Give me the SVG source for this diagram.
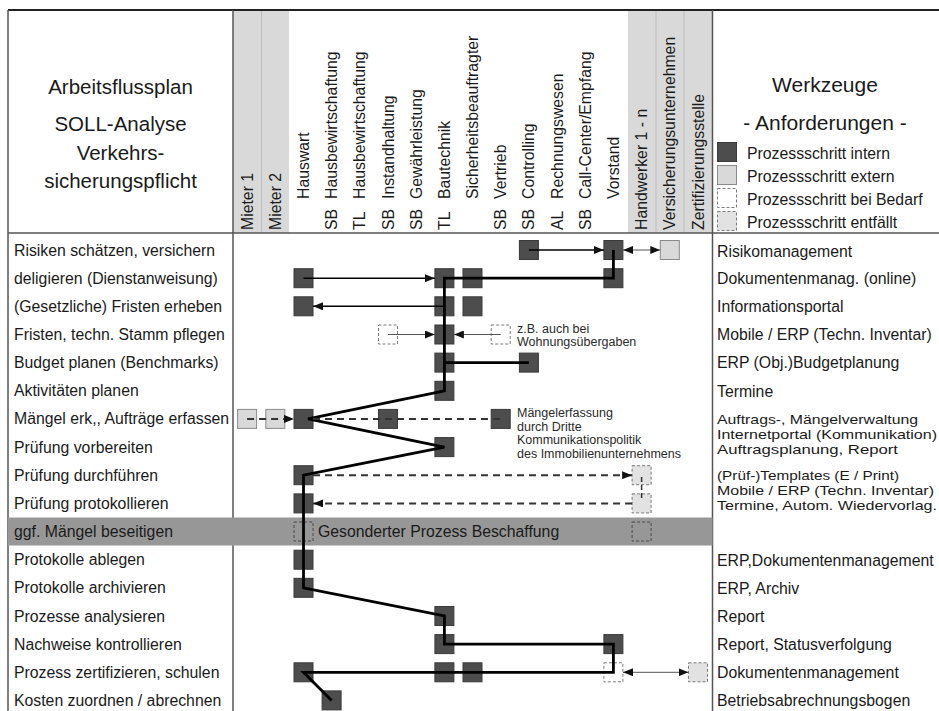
<svg xmlns="http://www.w3.org/2000/svg" width="939" height="711" viewBox="0 0 939 711">
<style>
.t{font-family:"Liberation Sans",Arial,sans-serif;font-size:15.8px;fill:#1a1a1a}
.tc{font-family:"Liberation Sans",Arial,sans-serif;font-size:13.4px;fill:#1a1a1a}
.h{font-family:"Liberation Sans",Arial,sans-serif;font-size:20.5px;fill:#1a1a1a;text-anchor:middle}
.s{font-family:"Liberation Sans",Arial,sans-serif;font-size:12.5px;fill:#2a2a2a}
.int{fill:#4d4d4d;stroke:#3a3a3a;stroke-width:1}
.ext{fill:#d9d9d9;stroke:#8a8a8a;stroke-width:1}
.bed{fill:#ffffff;stroke:#7a7a7a;stroke-width:1;stroke-dasharray:3,2}
.bedn{fill:none;stroke:#4a4a4a;stroke-width:1;stroke-dasharray:3,2}
.ent{fill:#e2e2e2;stroke:#7a7a7a;stroke-width:1;stroke-dasharray:3,2}
.frame{stroke:#555;stroke-width:1.5;fill:none}
.thick{stroke:#000;stroke-width:2.8;fill:none;stroke-linejoin:miter}
.thin{stroke:#000;stroke-width:1.5;fill:none}
.gray{stroke:#555;stroke-width:1;fill:none}
.dash{stroke:#333;stroke-width:2;fill:none;stroke-dasharray:7,5}
</style>
<defs>
<marker id="ah" viewBox="0 0 10 8" refX="10" refY="4" markerWidth="10" markerHeight="8" markerUnits="userSpaceOnUse" orient="auto-start-reverse"><path d="M0,0 L10,4 L0,8 z" fill="#111"/></marker>
</defs>

<!-- header backgrounds -->
<g id="header-bg">
<rect x="233" y="10" width="56" height="223" fill="#d9d9d9"/>
<line x1="261.5" y1="10" x2="261.5" y2="233" stroke="#bdbdbd" stroke-width="1"/>
<rect x="628" y="10" width="84.5" height="223" fill="#d9d9d9"/>
<line x1="656" y1="10" x2="656" y2="233" stroke="#bdbdbd" stroke-width="1"/>
<line x1="684" y1="10" x2="684" y2="233" stroke="#bdbdbd" stroke-width="1"/>
</g>

<!-- frame -->
<g id="frame">
<line x1="8" y1="10" x2="939" y2="10" stroke="#222" stroke-width="2"/>
<line class="frame" x1="8" y1="233" x2="939" y2="233"/>
<line class="frame" x1="8" y1="10" x2="8" y2="711"/>
<line class="frame" x1="233" y1="10" x2="233" y2="711"/>
<line class="frame" x1="712.5" y1="10" x2="712.5" y2="711"/>
</g>

<!-- band row 10 -->
<rect id="band" x="8" y="517.5" width="704.5" height="28" fill="#979797"/>

<!-- titles -->
<g id="title-left">
<text class="h" x="120.5" y="93.5">Arbeitsflussplan</text>
<text class="h" x="120.5" y="130.5">SOLL-Analyse</text>
<text class="h" x="120.5" y="160">Verkehrs-</text>
<text class="h" x="120.5" y="188">sicherungspflicht</text>
</g>
<g id="title-right">
<text class="h" x="825" y="92" style="font-size:21px">Werkzeuge</text>
<text class="h" x="825" y="130" style="font-size:21px">- Anforderungen -</text>
</g>
<g id="legend">
<rect class="int" x="717.5" y="142.5" width="19" height="19"/>
<text class="t" x="747" y="158.5">Prozessschritt intern</text>
<rect class="ext" x="717.5" y="165.5" width="19" height="19"/>
<text class="t" x="747" y="181.5">Prozessschritt extern</text>
<rect class="bed" x="717.5" y="188.5" width="19" height="19"/>
<text class="t" x="747" y="204.5">Prozessschritt bei Bedarf</text>
<rect class="ent" x="717.5" y="211.5" width="19" height="19"/>
<text class="t" x="747" y="227.5">Prozessschritt entfällt</text>
</g>

<!-- column headers -->
<g id="columns" class="t">
<text transform="translate(252.6,230) rotate(-90)">Mieter 1</text>
<text transform="translate(280.8,230) rotate(-90)">Mieter 2</text>
<text transform="translate(309,199) rotate(-90)">Hauswart</text>
<text transform="translate(337.1,230) rotate(-90)">SB</text>
<text transform="translate(337.1,199) rotate(-90)">Hausbewirtschaftung</text>
<text transform="translate(365.3,230) rotate(-90)">TL</text>
<text transform="translate(365.3,199) rotate(-90)">Hausbewirtschaftung</text>
<text transform="translate(393.5,230) rotate(-90)">SB</text>
<text transform="translate(393.5,199) rotate(-90)">Instandhaltung</text>
<text transform="translate(421.7,230) rotate(-90)">SB</text>
<text transform="translate(421.7,199) rotate(-90)">Gewährleistung</text>
<text transform="translate(449.9,230) rotate(-90)">TL</text>
<text transform="translate(449.9,199) rotate(-90)">Bautechnik</text>
<text transform="translate(478,199) rotate(-90)">Sicherheitsbeauftragter</text>
<text transform="translate(506.2,230) rotate(-90)">SB</text>
<text transform="translate(506.2,199) rotate(-90)">Vertrieb</text>
<text transform="translate(534.4,230) rotate(-90)">SB</text>
<text transform="translate(534.4,199) rotate(-90)">Controlling</text>
<text transform="translate(562.6,230) rotate(-90)">AL</text>
<text transform="translate(562.6,199) rotate(-90)">Rechnungswesen</text>
<text transform="translate(590.8,230) rotate(-90)">SB</text>
<text transform="translate(590.8,199) rotate(-90)">Call-Center/Empfang</text>
<text transform="translate(618.9,199) rotate(-90)">Vorstand</text>
<text transform="translate(647.1,230) rotate(-90)">Handwerker 1 - n</text>
<text transform="translate(675.3,230) rotate(-90)">Versicherungsunternehmen</text>
<text transform="translate(703.5,230) rotate(-90)">Zertifizierungsstelle</text>
</g>

<!-- row labels -->
<g id="rows" class="t">
<text x="14" y="255.5">Risiken schätzen, versichern</text>
<text x="14" y="283.7">deligieren (Dienstanweisung)</text>
<text x="14" y="311.8">(Gesetzliche) Fristen erheben</text>
<text x="14" y="340">Fristen, techn. Stamm pflegen</text>
<text x="14" y="368.1">Budget planen (Benchmarks)</text>
<text x="14" y="396.3">Aktivitäten planen</text>
<text x="14" y="424.4">Mängel erk,, Aufträge erfassen</text>
<text x="14" y="452.6">Prüfung vorbereiten</text>
<text x="14" y="480.7">Prüfung durchführen</text>
<text x="14" y="508.9">Prüfung protokollieren</text>
<text x="14" y="537">ggf. Mängel beseitigen</text>
<text x="14" y="565.2">Protokolle ablegen</text>
<text x="14" y="593.3">Protokolle archivieren</text>
<text x="14" y="621.5">Prozesse analysieren</text>
<text x="14" y="649.6">Nachweise kontrollieren</text>
<text x="14" y="677.8">Prozess zertifizieren, schulen</text>
<text x="14" y="705.9">Kosten zuordnen / abrechnen</text>
</g>

<!-- tools -->
<g id="tools" class="t">
<text x="717" y="256.5">Risikomanagement</text>
<text x="717" y="284">Dokumentenmanag. (online)</text>
<text x="717" y="312">Informationsportal</text>
<text x="717" y="340">Mobile / ERP (Techn. Inventar)</text>
<text x="717" y="368">ERP (Obj.)Budgetplanung</text>
<text x="717" y="397">Termine</text>
<text class="tc" x="717" y="424" textLength="201" lengthAdjust="spacingAndGlyphs">Auftrags-, Mängelverwaltung</text>
<text class="tc" x="717" y="439" textLength="220" lengthAdjust="spacingAndGlyphs">Internetportal (Kommunikation)</text>
<text class="tc" x="717" y="454" textLength="181" lengthAdjust="spacingAndGlyphs">Auftragsplanung, Report</text>
<text class="tc" x="717" y="479.5" textLength="182" lengthAdjust="spacingAndGlyphs">(Prüf-)Templates (E / Print)</text>
<text class="tc" x="717" y="494.5" textLength="217" lengthAdjust="spacingAndGlyphs">Mobile / ERP (Techn. Inventar)</text>
<text class="tc" x="717" y="509.5" textLength="220" lengthAdjust="spacingAndGlyphs">Termine, Autom. Wiedervorlag.</text>
<text x="717" y="565.5">ERP,Dokumentenmanagement</text>
<text x="717" y="593.5">ERP, Archiv</text>
<text x="717" y="621.5">Report</text>
<text x="717" y="649.5">Report, Statusverfolgung</text>
<text x="717" y="677.5">Dokumentenmanagement</text>
<text x="717" y="705.5">Betriebsabrechnungsbogen</text>
</g>

<!-- nodes -->
<g id="n-r0-c10"><rect class="int" x="519.4" y="240.5" width="19" height="19"/></g>
<g id="n-r0-c13"><rect class="int" x="603.9" y="240.5" width="19" height="19"/></g>
<g id="n-r0-c15"><rect class="ext" x="660.3" y="240.5" width="19" height="19"/></g>
<g id="n-r1-c2"><rect class="int" x="294" y="268.7" width="19" height="19"/></g>
<g id="n-r1-c7"><rect class="int" x="434.9" y="268.7" width="19" height="19"/></g>
<g id="n-r1-c8"><rect class="int" x="463" y="268.7" width="19" height="19"/></g>
<g id="n-r1-c13"><rect class="int" x="603.9" y="268.7" width="19" height="19"/></g>
<g id="n-r2-c2"><rect class="int" x="294" y="296.8" width="19" height="19"/></g>
<g id="n-r2-c7"><rect class="int" x="434.9" y="296.8" width="19" height="19"/></g>
<g id="n-r2-c8"><rect class="int" x="463" y="296.8" width="19" height="19"/></g>
<g id="n-r3-c5"><rect class="bed" x="378.5" y="325" width="19" height="19"/></g>
<g id="n-r3-c7"><rect class="int" x="434.9" y="325" width="19" height="19"/></g>
<g id="n-r3-c9"><rect class="bed" x="491.2" y="325" width="19" height="19"/></g>
<g id="n-r4-c7"><rect class="int" x="434.9" y="353.1" width="19" height="19"/></g>
<g id="n-r4-c10"><rect class="int" x="519.4" y="353.1" width="19" height="19"/></g>
<g id="n-r5-c7"><rect class="int" x="434.9" y="381.3" width="19" height="19"/></g>
<g id="n-r6-c0"><rect class="ext" x="237.6" y="409.4" width="19" height="19"/></g>
<g id="n-r6-c1"><rect class="ext" x="265.8" y="409.4" width="19" height="19"/></g>
<g id="n-r6-c2"><rect class="int" x="294" y="409.4" width="19" height="19"/></g>
<g id="n-r6-c5"><rect class="int" x="378.5" y="409.4" width="19" height="19"/></g>
<g id="n-r6-c9"><rect class="int" x="491.2" y="409.4" width="19" height="19"/></g>
<g id="n-r7-c7"><rect class="int" x="434.9" y="437.6" width="19" height="19"/></g>
<g id="n-r8-c2"><rect class="int" x="294" y="465.7" width="19" height="19"/></g>
<g id="n-r8-c14"><rect class="ent" x="632.1" y="465.7" width="19" height="19"/></g>
<g id="n-r9-c2"><rect class="int" x="294" y="493.9" width="19" height="19"/></g>
<g id="n-r9-c14"><rect class="ent" x="632.1" y="493.9" width="19" height="19"/></g>
<g id="n-r10-c2"><rect class="bedn" x="294" y="522" width="19" height="19"/></g>
<g id="n-r10-c14"><rect class="bedn" x="632.1" y="522" width="19" height="19"/></g>
<g id="n-r11-c2"><rect class="int" x="294" y="550.2" width="19" height="19"/></g>
<g id="n-r12-c2"><rect class="int" x="294" y="578.3" width="19" height="19"/></g>
<g id="n-r13-c7"><rect class="int" x="434.9" y="606.5" width="19" height="19"/></g>
<g id="n-r14-c7"><rect class="int" x="434.9" y="634.6" width="19" height="19"/></g>
<g id="n-r14-c13"><rect class="int" x="603.9" y="634.6" width="19" height="19"/></g>
<g id="n-r15-c2"><rect class="int" x="294" y="662.8" width="19" height="19"/></g>
<g id="n-r15-c7"><rect class="int" x="434.9" y="662.8" width="19" height="19"/></g>
<g id="n-r15-c8"><rect class="int" x="463" y="662.8" width="19" height="19"/></g>
<g id="n-r15-c13"><rect class="bed" x="603.9" y="662.8" width="19" height="19"/></g>
<g id="n-r15-c16"><rect class="ent" x="688.5" y="662.8" width="19" height="19"/></g>
<g id="n-r16-c3"><rect class="int" x="322.1" y="690.9" width="19" height="19"/></g>

<!-- annotations -->
<g id="notes">
<text class="s" x="517" y="333">z.B. auch bei</text>
<text class="s" x="517" y="346">Wohnungsübergaben</text>
<text class="s" x="517" y="417">Mängelerfassung</text>
<text class="s" x="517" y="430.7">durch Dritte</text>
<text class="s" x="517" y="444.4">Kommunikationspolitik</text>
<text class="s" x="517" y="458">des Immobilienunternehmens</text>
<text class="t" x="318" y="537">Gesonderter Prozess Beschaffung</text>
</g>

<!-- connectors -->
<g id="connectors">
<path class="thick" d="M613.4,250 V278.2 H444.4 V390.8 L308,418.9 L444.4,447.1 L303.5,475.2 V587.8 L444.4,616 V644.1 H613.4 V672.3 H303.5 L331.6,700.4"/>
<path class="thick" d="M444.4,362.6 H528.9"/>
<path class="thin" d="M528.9,250 H603.9" marker-end="url(#ah)"/>
<path class="thin" d="M303.5,278.2 H434.9" marker-end="url(#ah)"/>
<path class="thin" d="M444.4,306.3 H313" marker-end="url(#ah)"/>
<path class="gray" d="M623,250 H660.3" marker-start="url(#ah)" marker-end="url(#ah)"/>
<path class="gray" d="M388,334.5 H434.9" marker-end="url(#ah)"/>
<path class="gray" d="M500.7,334.5 H453.9" marker-end="url(#ah)"/>
<path class="gray" d="M623,672.3 H688.5" marker-start="url(#ah)" marker-end="url(#ah)"/>
<path class="dash" d="M247.1,418.9 H294" marker-end="url(#ah)"/>
<path class="dash" d="M313,418.9 H500.7"/>
<path class="dash" d="M313,475.2 H632.1" marker-end="url(#ah)"/>
<path class="dash" d="M632.1,503.4 H313" marker-end="url(#ah)"/>
<path class="dash" d="M641.6,477 V501" style="stroke-width:1.5;stroke-dasharray:5,3"/>
</g>
</svg>
